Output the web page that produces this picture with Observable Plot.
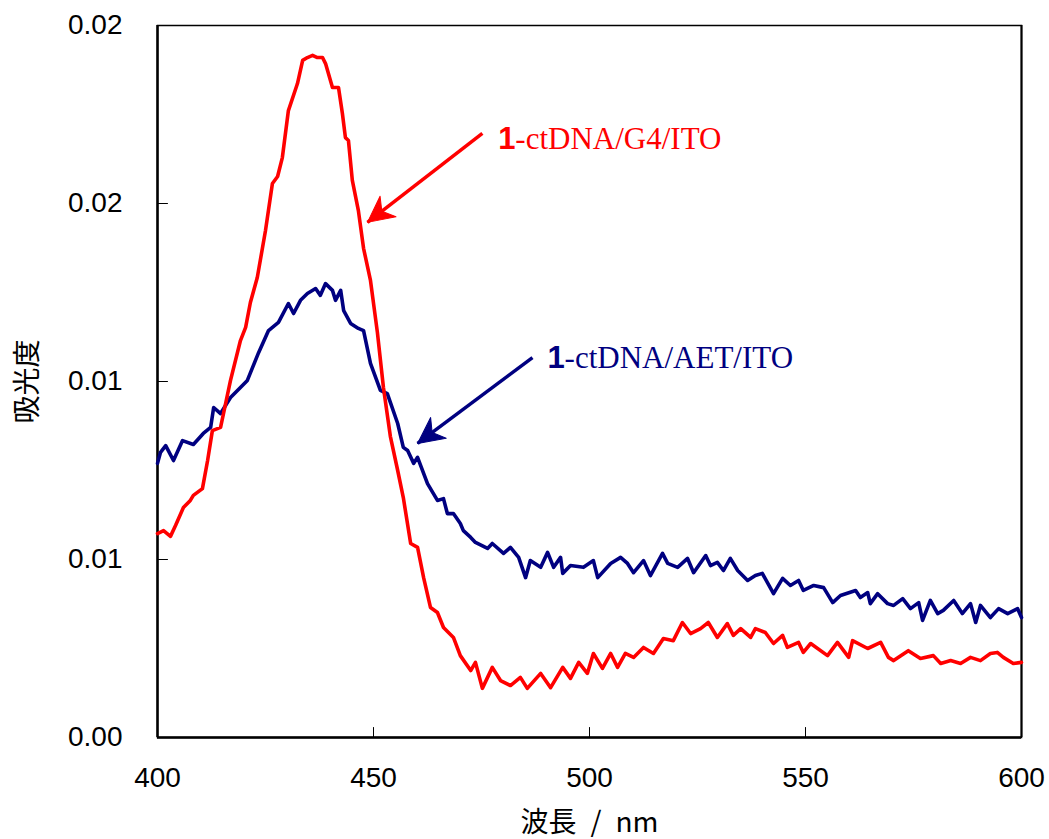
<!DOCTYPE html>
<html>
<head>
<meta charset="utf-8">
<script src="https://cdn.jsdelivr.net/npm/d3@7"></script>
<script src="https://cdn.jsdelivr.net/npm/@observablehq/plot@0.6"></script>
<style>
  body { margin: 0; background: #fff; }
</style>
</head>
<body>
<div id="chart"></div>
<script>
// ---- data (wavelength nm, absorbance) ----
const redSeries = [[400.0,0.00573],[401.4,0.00581],[403.0,0.00565],[404.2,0.00596],[406.0,0.00646],[407.6,0.00666],[408.3,0.00680],[410.4,0.00699],[411.6,0.00778],[412.7,0.00862],[414.6,0.00871],[416.9,0.01003],[419.2,0.01115],[420.4,0.01152],[421.5,0.01222],[423.1,0.01292],[425.0,0.01424],[426.6,0.01556],[427.8,0.01576],[428.9,0.01629],[430.3,0.01761],[432.4,0.01837],[433.6,0.01902],[434.7,0.01910],[435.9,0.01916],[437.0,0.01910],[438.2,0.01910],[438.9,0.01893],[440.5,0.01826],[441.9,0.01826],[442.8,0.01753],[443.5,0.01685],[444.2,0.01677],[445.1,0.01565],[446.5,0.01480],[447.7,0.01374],[449.3,0.01284],[450.9,0.01138],[452.3,0.00983],[453.9,0.00846],[455.6,0.00750],[456.9,0.00674],[458.6,0.00545],[460.2,0.00534],[461.6,0.00449],[463.2,0.00365],[464.8,0.00351],[466.2,0.00309],[468.5,0.00281],[470.1,0.00230],[472.5,0.00188],[473.6,0.00211],[475.2,0.00138],[477.5,0.00197],[479.4,0.00160],[481.7,0.00146],[484.0,0.00169],[485.6,0.00138],[488.7,0.00180],[491.0,0.00140],[493.8,0.00197],[495.6,0.00166],[497.5,0.00211],[499.5,0.00180],[500.9,0.00236],[503.0,0.00194],[504.9,0.00236],[506.5,0.00197],[508.3,0.00236],[510.2,0.00225],[512.5,0.00253],[514.8,0.00236],[517.1,0.00278],[519.4,0.00272],[521.5,0.00323],[523.4,0.00292],[525.7,0.00306],[527.5,0.00323],[529.6,0.00281],[531.9,0.00320],[533.3,0.00287],[535.0,0.00306],[537.3,0.00281],[538.4,0.00306],[540.7,0.00295],[542.6,0.00264],[544.7,0.00287],[545.8,0.00253],[548.4,0.00267],[549.5,0.00239],[551.2,0.00264],[555.1,0.00230],[557.4,0.00267],[560.0,0.00225],[560.9,0.00272],[564.4,0.00250],[567.4,0.00267],[569.2,0.00225],[570.4,0.00216],[573.8,0.00244],[576.6,0.00222],[579.6,0.00230],[581.3,0.00208],[583.6,0.00216],[585.9,0.00208],[588.2,0.00225],[590.5,0.00216],[592.8,0.00236],[594.4,0.00239],[595.8,0.00225],[598.1,0.00208],[600.0,0.00211]];

const blueSeries = [[400.0,0.00770],[400.7,0.00801],[401.9,0.00820],[403.7,0.00778],[405.8,0.00834],[408.3,0.00823],[410.6,0.00854],[412.3,0.00871],[413.0,0.00927],[414.6,0.00910],[416.9,0.00955],[419.2,0.00983],[420.8,0.01003],[423.4,0.01081],[425.7,0.01143],[428.0,0.01166],[430.3,0.01219],[431.5,0.01191],[433.1,0.01228],[434.7,0.01247],[436.6,0.01261],[437.7,0.01242],[438.9,0.01275],[440.5,0.01256],[441.2,0.01228],[442.4,0.01256],[443.1,0.01199],[444.7,0.01163],[446.5,0.01149],[447.7,0.01143],[449.3,0.01051],[451.6,0.00975],[453.2,0.00966],[455.6,0.00882],[456.9,0.00815],[457.9,0.00806],[459.3,0.00770],[460.2,0.00787],[462.5,0.00713],[464.8,0.00666],[466.2,0.00671],[467.1,0.00629],[468.5,0.00629],[470.1,0.00601],[470.8,0.00581],[472.5,0.00562],[473.6,0.00548],[476.4,0.00531],[477.5,0.00545],[480.1,0.00517],[481.7,0.00534],[483.6,0.00506],[485.2,0.00449],[486.3,0.00497],[488.7,0.00478],[490.3,0.00520],[491.7,0.00478],[493.3,0.00506],[493.8,0.00461],[495.6,0.00483],[498.6,0.00478],[500.9,0.00497],[501.9,0.00449],[504.9,0.00489],[507.2,0.00506],[508.8,0.00489],[510.2,0.00463],[512.5,0.00497],[514.1,0.00455],[516.9,0.00517],[518.1,0.00489],[520.4,0.00478],[522.7,0.00503],[524.1,0.00463],[526.9,0.00511],[528.0,0.00483],[529.6,0.00492],[531.0,0.00469],[532.6,0.00503],[534.3,0.00469],[536.6,0.00441],[538.4,0.00455],[540.0,0.00461],[542.6,0.00404],[544.7,0.00447],[546.5,0.00427],[548.4,0.00441],[549.5,0.00413],[551.9,0.00427],[554.2,0.00421],[556.3,0.00379],[558.1,0.00399],[561.6,0.00413],[562.7,0.00393],[564.4,0.00407],[565.0,0.00376],[566.7,0.00404],[569.0,0.00376],[570.4,0.00371],[572.5,0.00390],[574.3,0.00362],[576.2,0.00379],[577.1,0.00329],[578.9,0.00385],[580.6,0.00348],[581.9,0.00357],[584.3,0.00385],[586.3,0.00348],[588.2,0.00376],[589.4,0.00323],[590.5,0.00371],[592.8,0.00337],[594.7,0.00362],[596.8,0.00348],[599.1,0.00362],[600.0,0.00337]];

const xDomain = [400, 600];
const yDomain = [0, 0.02];
const xTicks = [400, 450, 500, 550, 600];
const yTicks = [0, 0.005, 0.01, 0.015, 0.02];
const yTickLabels = ["0.00", "0.01", "0.01", "0.02", "0.02"];
const xTickLabels = ["400", "450", "500", "550", "600"];
const xLabel = "波長\u2002/\u2002nm";
const yLabel = "吸光度";

// annotations: label anchor + arrow (start -> tip) in data units
const annotations = [
  {bold: "1", rest: "-ctDNA/G4/ITO", color: "#ff0000", lx: 478.9, ly: 0.01654, x1: 475.2, y1: 0.01697, x2: 448.6, y2: 0.01447},
  {bold: "1", rest: "-ctDNA/AET/ITO", color: "#000080", lx: 490.3, ly: 0.01039, x1: 486.8, y1: 0.01067, x2: 460.2, y2: 0.00826}
];

const red = redSeries.map(([x, y]) => ({x, y}));
const blue = blueSeries.map(([x, y]) => ({x, y}));
const yLabelMap = new Map(yTicks.map((t, i) => [t, yTickLabels[i]]));
const xLabelMap = new Map(xTicks.map((t, i) => [t, xTickLabels[i]]));

const sans = "'Liberation Sans', Arial, sans-serif";
const serif = "'Liberation Serif', 'Times New Roman', serif";
const cjk = "'Noto Sans CJK JP', 'Noto Sans', sans-serif";

const tickShape = {draw(ctx, l) { ctx.moveTo(0, 0); ctx.lineTo(0, -l); }};
const headShape = {draw(ctx, l) {
  const w = l * 0.5;
  ctx.moveTo(0, -l);
  ctx.lineTo(-w, 0);
  ctx.lineTo(0, -l * 0.3);
  ctx.lineTo(w, 0);
  ctx.closePath();
}};

function options(extraMarks) {
  return {
    width: 1049,
    height: 839,
    marginLeft: 157,
    marginRight: 28,
    marginTop: 25,
    marginBottom: 102,
    style: {fontFamily: sans, fontSize: "28px", color: "black", background: "white", overflow: "visible"},
    x: {domain: xDomain},
    y: {domain: yDomain},
    marks: [
      Plot.frame({stroke: "black", strokeWidth: 1.5}),
      Plot.ruleX([xDomain[0]], {stroke: "black", strokeWidth: 2.5}),
      Plot.ruleX([xDomain[1]], {stroke: "black", strokeWidth: 2}),
      Plot.ruleY([yDomain[0]], {stroke: "black", strokeWidth: 2.5}),
      Plot.vector(yTicks, {y: d => d, frameAnchor: "left", rotate: 90, length: 10, anchor: "start", shape: tickShape, stroke: "black", strokeWidth: 1}),
      Plot.vector(xTicks, {x: d => d, frameAnchor: "bottom", rotate: 0, length: 10, anchor: "start", shape: tickShape, stroke: "black", strokeWidth: 1}),
      Plot.axisX(xTicks, {tickSize: 0, tickPadding: 30, tickFormat: d => xLabelMap.get(d), fontSize: 28, fontFamily: sans, label: null}),
      Plot.axisY(yTicks, {tickSize: 0, tickPadding: 35, tickFormat: d => yLabelMap.get(d), fontSize: 28, fontFamily: sans, label: null}),
      Plot.text([yLabel], {text: d => d, frameAnchor: "left", dx: -129, rotate: -90, textAnchor: "middle", lineAnchor: "middle", fontSize: 28, fontFamily: cjk, fill: "black"}),
      Plot.text([xLabel], {text: d => d, frameAnchor: "bottom", dy: 86, textAnchor: "middle", lineAnchor: "middle", fontSize: 28, fontFamily: cjk, fill: "black"}),
      Plot.line(blue, {x: "x", y: "y", stroke: "#000080", strokeWidth: 3.6, curve: "linear", strokeLinejoin: "round"}),
      Plot.line(red, {x: "x", y: "y", stroke: "#ff0000", strokeWidth: 3.6, curve: "linear", strokeLinejoin: "round"}),
      Plot.link(annotations, {x1: "x1", y1: "y1", x2: "x2", y2: "y2", stroke: "color", strokeWidth: 3.5}),
      Plot.text(annotations, {x: "lx", y: "ly", text: "bold", fill: "color", fontWeight: "bold", fontFamily: sans, fontSize: 31, textAnchor: "start", lineAnchor: "bottom"}),
      Plot.text(annotations, {x: "lx", y: "ly", text: "rest", fill: "color", fontFamily: serif, fontSize: 31, dx: 17, textAnchor: "start", lineAnchor: "bottom"}),
      ...extraMarks
    ]
  };
}

// first pass to obtain scales for arrowhead orientation
const base = Plot.plot(options([]));
const sx = base.scale("x"), sy = base.scale("y");
const heads = annotations.map(a => {
  const dx = sx.apply(a.x2) - sx.apply(a.x1);
  const dy = sy.apply(a.y2) - sy.apply(a.y1);
  return {...a, r: Math.atan2(dx, -dy) * 180 / Math.PI};
});

const chart = Plot.plot(options([
  Plot.vector(heads, {x: "x2", y: "y2", rotate: "r", length: 26, anchor: "end", shape: headShape, fill: "color", stroke: "color", strokeWidth: 1})
]));
document.getElementById("chart").appendChild(chart);
</script>
</body>
</html>
